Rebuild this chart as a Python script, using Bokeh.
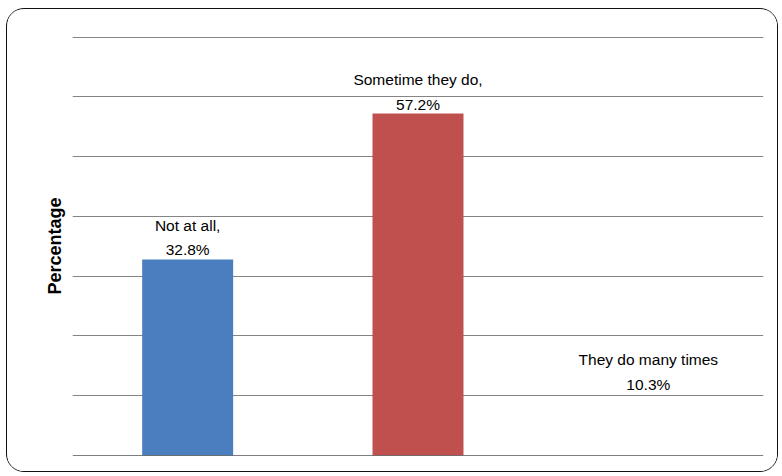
from bokeh.plotting import figure
from bokeh.models import ColumnDataSource, Range1d, Span, SingleIntervalTicker, FixedTicker
from bokeh.core.properties import value
from bokeh.embed import file_html
from bokeh.resources import INLINE

categories = ["Not at all", "Sometime they do", "They do many times"]
values = [32.8, 57.2, 10.3]
labels = ["Not at all,\n32.8%", "Sometime they do,\n57.2%", "They do many times\n10.3%"]
colors = ["#4A7EBF", "#C0504D", "#9BBB59"]
alphas = [1.0, 1.0, 0.0]

src = ColumnDataSource(dict(cat=categories, val=values, lab=labels, col=colors, alp=alphas))

p = figure(x_range=categories, y_range=Range1d(0, 70.1), width=772, height=464,
           output_backend="svg", toolbar_location=None,
           min_border_left=65, min_border_right=16, min_border_top=27, min_border_bottom=18,
           outline_line_color=None,
           styles={"margin-left": "6px", "margin-top": "8px", "border": "1.5px solid #111",
                   "border-radius": "18px", "box-sizing": "border-box", "overflow": "hidden"})

p.vbar(x="cat", top="val", width=0.395, source=src, fill_color="col", fill_alpha="alp",
       line_color=None)

p.text(x="cat", y="val", text="lab", source=src, text_align="center", text_baseline="bottom",
       y_offset=-1, text_font=value("Liberation Sans"), text_font_size="15.5px",
       text_line_height=1.45, text_color="#000000")

p.xaxis.visible = False
p.xgrid.visible = False
p.ygrid.ticker = SingleIntervalTicker(interval=10)
p.yaxis.ticker = FixedTicker(ticks=[])
p.ygrid.grid_line_color = "#858585"
p.ygrid.grid_line_width = 1
p.yaxis.major_label_standoff = 0
p.yaxis.major_tick_line_color = None
p.yaxis.minor_tick_line_color = None
p.yaxis.axis_line_color = None
p.yaxis.axis_label = "Percentage"
p.yaxis.axis_label_text_font = "Liberation Sans"
p.yaxis.axis_label_text_font_style = "bold"
p.yaxis.axis_label_text_font_size = "18px"
p.yaxis.axis_label_text_color = "#000000"
p.yaxis.axis_label_standoff = 8

p.add_layout(Span(location=0, dimension="width", line_color="#000000", line_width=1))

open("out.html", "w").write(file_html(p, INLINE))
